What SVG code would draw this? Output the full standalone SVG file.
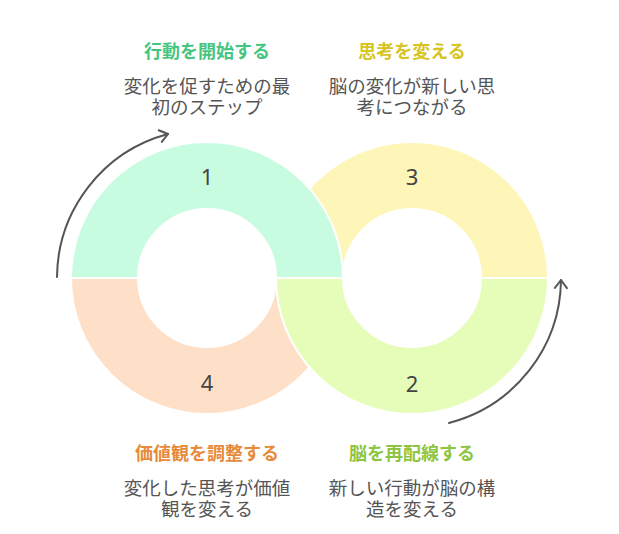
<svg xmlns="http://www.w3.org/2000/svg" width="619" height="534" viewBox="0 0 619 534">
  <style>
    .seg { stroke: #ffffff; stroke-width: 2; }
    .num { font-family: "Noto Sans", "Liberation Sans", sans-serif; font-size: 22px; fill: #444444; text-anchor: middle; dominant-baseline: central; }
    .title { font-family: "Noto Sans CJK JP", "Noto Sans CJK SC", sans-serif; font-size: 18px; font-weight: bold; text-anchor: middle; dominant-baseline: central; }
    .desc { font-family: "Noto Sans CJK JP", "Noto Sans CJK SC", sans-serif; font-size: 18.5px; fill: #555555; text-anchor: middle; dominant-baseline: central; }
    .arrow { fill: none; stroke: #555555; stroke-width: 2; stroke-linecap: round; }
  </style>
  <defs>
    <marker id="head" markerUnits="userSpaceOnUse" markerWidth="20" markerHeight="20" refX="0" refY="0" viewBox="-12 -10 14 20" orient="auto">
      <path d="M-8,-6 L0,0 L-8,6" fill="none" stroke="#555555" stroke-width="2" stroke-linecap="round" stroke-linejoin="round"/>
    </marker>
  </defs>
  <rect width="619" height="534" fill="#ffffff"/>

  <g id="step3">
    <path class="seg" fill="#FEF5B8" d="M276,278 A136,136 0 0 1 548,278 L481,278 A69,69 0 0 0 343,278 Z"/>
    <text class="num" x="412" y="176">3</text>
  </g>
  <g id="step4">
    <path class="seg" fill="#FEE0C8" d="M71,278 A136,136 0 0 0 343,278 L276,278 A69,69 0 0 1 138,278 Z"/>
    <text class="num" x="207" y="382">4</text>
  </g>
  <g id="step1">
    <path class="seg" fill="#C8FCE0" d="M71,278 A136,136 0 0 1 343,278 L276,278 A69,69 0 0 0 138,278 Z"/>
    <text class="num" x="207" y="176">1</text>
  </g>
  <g id="step2">
    <path class="seg" fill="#E5FDB9" d="M276,278 A136,136 0 0 0 548,278 L481,278 A69,69 0 0 1 343,278 Z"/>
    <text class="num" x="412" y="383">2</text>
  </g>

  <g id="connectors">
    <path class="arrow" d="M57,277 A149.5,149.5 0 0 1 168,134" marker-end="url(#head)"/>
    <path class="arrow" d="M449,423 A149.5,149.5 0 0 0 561,280" marker-end="url(#head)"/>
  </g>

  <g id="label1">
    <text class="title" x="207" y="50" fill="#45C57F">行動を開始する</text>
    <text class="desc" x="207" y="85">変化を促すための最</text>
    <text class="desc" x="207" y="106">初のステップ</text>
  </g>
  <g id="label3">
    <text class="title" x="412" y="50" fill="#D8C41E">思考を変える</text>
    <text class="desc" x="412" y="85">脳の変化が新しい思</text>
    <text class="desc" x="412" y="106">考につながる</text>
  </g>
  <g id="label4">
    <text class="title" x="207" y="452" fill="#E88A3C">価値観を調整する</text>
    <text class="desc" x="207" y="487">変化した思考が価値</text>
    <text class="desc" x="207" y="508">観を変える</text>
  </g>
  <g id="label2">
    <text class="title" x="412" y="452" fill="#8DC441">脳を再配線する</text>
    <text class="desc" x="412" y="487">新しい行動が脳の構</text>
    <text class="desc" x="412" y="508">造を変える</text>
  </g>
</svg>
